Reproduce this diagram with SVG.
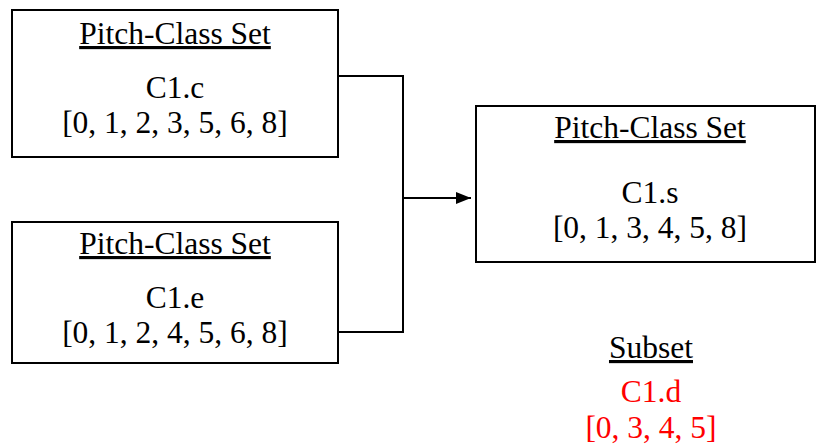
<svg xmlns="http://www.w3.org/2000/svg" width="817" height="448" viewBox="0 0 817 448">
<style>
  .box { fill: #ffffff; stroke: #000000; stroke-width: 2; }
  .t { font-family: "Liberation Serif", "Times New Roman", serif; font-size: 31.5px; text-anchor: middle; fill: #000000; }
  .u { text-decoration: underline; }
  .red { fill: #ff0000; }
  .conn { fill: none; stroke: #000000; stroke-width: 2; }
</style>
<defs>
  <marker id="arrow" markerWidth="15" markerHeight="12" refX="15" refY="6" orient="auto" markerUnits="userSpaceOnUse" viewBox="0 0 15 12">
    <path d="M0,0 L15,6 L0,12 Z" fill="#000000"/>
  </marker>
</defs>
<rect width="817" height="448" fill="#ffffff"/>
<g id="connectors">
  <polyline class="conn" points="338,76 403,76 403,332 338,332"/>
  <line class="conn" x1="403" y1="198" x2="471" y2="198" marker-end="url(#arrow)"/>
</g>
<g id="node-c1c">
  <rect class="box" x="12" y="10" width="326" height="147"/>
  <text class="t u" x="175" y="44">Pitch-Class Set</text>
  <text class="t" x="175" y="98">C1.c</text>
  <text class="t" x="175" y="133">[0, 1, 2, 3, 5, 6, 8]</text>
</g>
<g id="node-c1e">
  <rect class="box" x="12" y="222" width="326" height="141"/>
  <text class="t u" x="175" y="254">Pitch-Class Set</text>
  <text class="t" x="175" y="308">C1.e</text>
  <text class="t" x="175" y="343">[0, 1, 2, 4, 5, 6, 8]</text>
</g>
<g id="node-c1s">
  <rect class="box" x="476" y="106" width="339" height="156"/>
  <text class="t u" x="650" y="138">Pitch-Class Set</text>
  <text class="t" x="650" y="203">C1.s</text>
  <text class="t" x="650" y="238">[0, 1, 3, 4, 5, 8]</text>
</g>
<g id="node-subset">
  <text class="t u" x="651" y="358">Subset</text>
  <text class="t red" x="651" y="402">C1.d</text>
  <text class="t red" x="651" y="438">[0, 3, 4, 5]</text>
</g>
</svg>
